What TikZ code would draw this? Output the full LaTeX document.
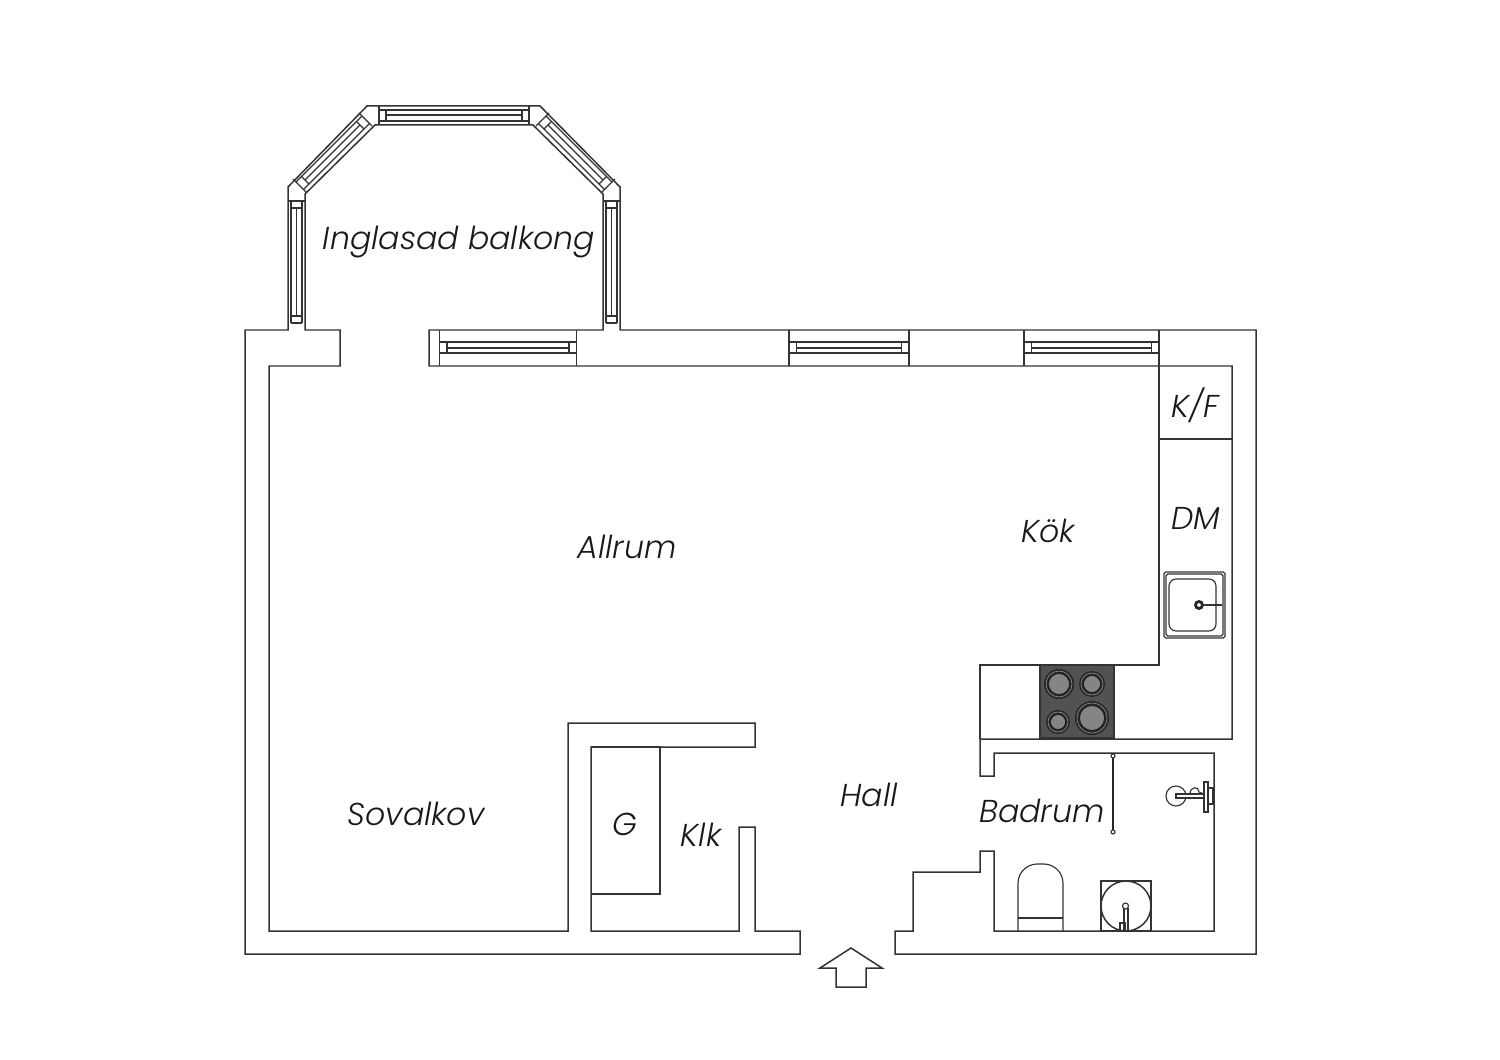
\documentclass[tikz,border=0pt]{standalone}
\usepackage{fontspec}
\setmainfont{Poppins Light}[ItalicFont={Poppins Light Italic}]
\tikzset{
    wall/.style={draw=black!80, line width=0.85pt, line join=miter},
    thin part/.style={draw=black!80, line width=0.65pt},
    roomlabel/.style={font=\itshape\fontsize{18}{22}\selectfont, text=black!90, inner sep=0pt},
}
% window in a straight wall: left end, right end
\newcommand{\wallwindow}[2]{
    \draw[thin part] (#1,330) -- (#1,366) (#2,330) -- (#2,366);
    \draw[thin part] (#1,342) rectangle (#2,353);
    \draw[thin part] (#1+7.5,342) -- (#1+7.5,353) (#2-7.5,342) -- (#2-7.5,353);
    \draw[thin part] (#1+7.5,348) -- (#2-7.5,348);
}
% slanted balcony window, upper left one
\newcommand{\slantwindow}{
    \draw[thin part] (359,113) -- (372,126) (293,179) -- (306,192);
    \draw[thin part] (296,182) -- (362,116) (303.5,189.5) -- (369.5,123.5);
    \draw[thin part] (356.5,121.5) -- (364,129) (301.5,176.5) -- (309,184);
    \draw[thin part] (305,180) -- (360,125);
}
% upright balcony window, left edge at #1
\newcommand{\sidewindow}[1]{
    \draw[thin part] (#1,201) -- (#1,323) (#1+11,201) -- (#1+11,323) (#1,323) -- (#1+11,323);
    \draw[thin part] (#1,208) -- (#1+11,208) (#1,316) -- (#1+11,316) (#1+5.5,208) -- (#1+5.5,316);
}
\begin{document}
\begin{tikzpicture}[x=0.02cm, y=-0.02cm]
    \useasboundingbox (0,0) rectangle (1500,1060);

    % Outer and inner wall line
    \draw[wall] (245,330) -- (288,330) -- (288,187) -- (367,106) -- (540,106) -- (620,187) -- (620,330)
        -- (1256,330) -- (1256,954) -- (895,954) -- (895,931) -- (913,931) -- (913,872) -- (980,872)
        -- (980,851) -- (994,851) -- (994,931) -- (1214,931) -- (1214,753) -- (994,753) -- (994,776)
        -- (980,776) -- (980,739) -- (1232,739) -- (1232,366) -- (429,366) -- (429,330) -- (603,330)
        -- (603,194) -- (533,125) -- (375,125) -- (305,194) -- (305,330) -- (340,330) -- (340,366)
        -- (269,366) -- (269,931) -- (568,931) -- (568,723) -- (755,723) -- (755,747) -- (591,747)
        -- (591,931) -- (739,931) -- (739,827) -- (755,827) -- (755,931) -- (800,931) -- (800,954)
        -- (245,954) -- cycle;

    % Windows along the long wall
    \wallwindow{439.5}{576.5}
    \wallwindow{789}{909}
    \wallwindow{1024}{1159}

    % Balcony glazing, top
    \draw[thin part] (379,106) -- (379,125) (529,106) -- (529,125);
    \draw[thin part] (379,110) -- (529,110) (379,121) -- (529,121);
    \draw[thin part] (386,110) -- (386,121) (522,110) -- (522,121);
    \draw[thin part] (386,115) -- (522,115);

    % Balcony glazing, sides
    \draw[thin part] (288,201) -- (305,201) (603,201) -- (620,201);
    \sidewindow{291}
    \sidewindow{606}

    % Balcony glazing, slanted
    \slantwindow
    \begin{scope}[shift={(908,0)}, xscale=-1]
        \slantwindow
    \end{scope}

    % Fixed fittings
    \draw[thin part] (1159,330) -- (1159,665) -- (980,665) -- (980,739);
    \draw[thin part] (1159,439) -- (1232,439);
    \draw[thin part] (591,747) -- (660,747) -- (660,894) -- (591,894);

    % Hob
    \fill[black!68] (1040,665) rectangle (1114,738);
    \draw[thin part] (1040,665) rectangle (1114,738);
    \foreach \hx/\hy/\hr in {1059/684/15, 1092/684/13, 1058/722/12, 1092/718/17} {
        \fill[black!85] (\hx,\hy) circle (\hr);
        \draw[black!45, line width=0.4pt] (\hx,\hy) circle (\hr-2);
        \fill[black!48] (\hx,\hy) circle (\hr-4.5);
        \draw[black!90, line width=0.4pt] (\hx,\hy) circle (\hr-4.5);
    }

    % Kitchen sink
    \draw[thin part, rounded corners=1pt] (1164,572) rectangle (1225,638);
    \draw[thin part, rounded corners=1pt] (1166,574) rectangle (1223,636);
    \draw[thin part, rounded corners=4pt] (1169,579) rectangle (1216,631);
    \draw[black!85, line width=1.6pt] (1199,605) circle (3.5);
    \draw[black!80, line width=1.3pt] (1202,605) -- (1222,605);

    % Shower rod
    \draw[black!85, line width=1.2pt] (1113,756) -- (1113,832);
    \draw[thin part, fill=white] (1113,756) circle (2);
    \draw[thin part, fill=white] (1113,832) circle (2);

    % Washbasin on the wall
    \draw[thin part] (1176,796) circle (10);
    \draw[thin part] (1190,794) .. controls (1190,786) and (1199,786) .. (1199,792) -- (1204,794);
    \draw[thin part, fill=white] (1176,794) rectangle (1204,798);
    \draw[thin part, fill=white] (1204,782) rectangle (1208,812);
    \draw[thin part, fill=white] (1208,788) rectangle (1213,804);

    % Toilet
    \draw[thin part, rounded corners=11pt] (1018,931) -- (1018,864) -- (1063,864) -- (1063,931);
    \draw[thin part] (1018,918) -- (1063,918);

    % Washing machine
    \draw[thin part] (1101,881) rectangle (1151,931);
    \draw[wall] (1126,906) circle (25);
    \draw[thin part] (1124,931) -- (1124,908) (1128,931) -- (1128,908);
    \draw[thin part, fill=white] (1125.5,906) circle (3);
    \draw[thin part] (1120,923) rectangle (1125,931);

    % Entrance arrow
    \draw[wall] (851,948) -- (882,968) -- (866,968) -- (866,987) -- (836,987) -- (836,968) -- (820,968) -- cycle;

    % Labels for rooms
    \node[roomlabel] (balkong) at (459,242) {Inglasad balkong};
    \node[roomlabel] (allrum) at (627,547) {Allrum};
    \node[roomlabel] (kok) at (1048,531) {Kök};
    \node[roomlabel] (kf) at (1195,405) {K/F};
    \node[roomlabel] (dm) at (1196,518) {DM};
    \node[roomlabel] (sovalkov) at (416,814) {Sovalkov};
    \node[roomlabel] (garderob) at (625,824) {G};
    \node[roomlabel] (klk) at (701,835) {Klk};
    \node[roomlabel] (hall) at (869,795) {Hall};
    \node[roomlabel] (badrum) at (1042,811) {Badrum};
\end{tikzpicture}
\end{document}
